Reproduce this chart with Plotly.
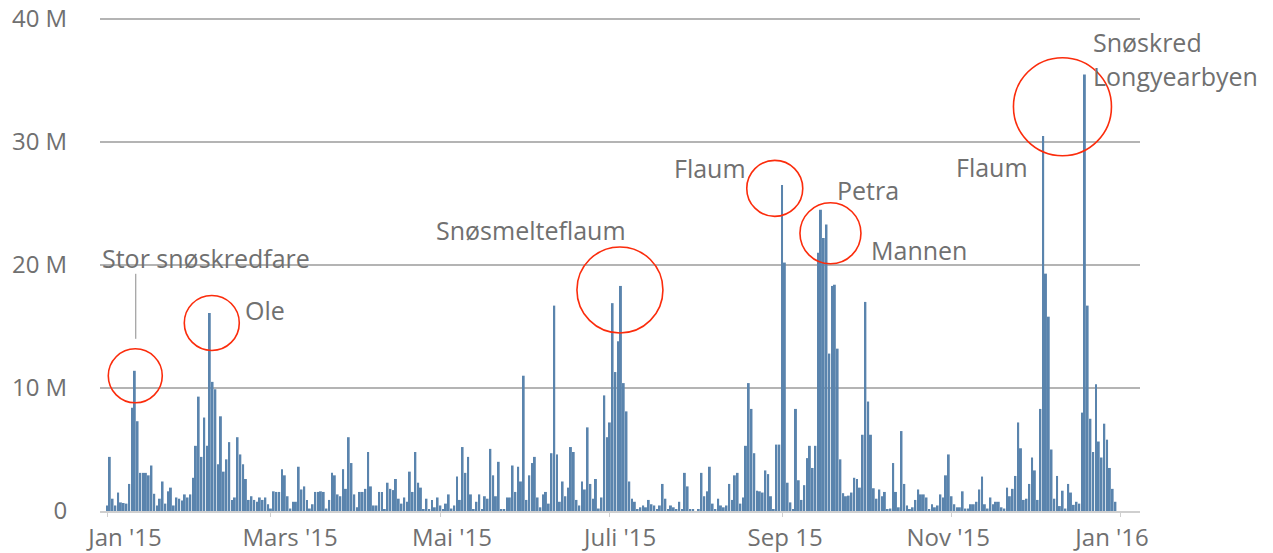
import pandas as pd
import plotly.graph_objects as go

start_date = "2015-01-01"

# Daily values (millions), stretch by stretch
days_000_042 = [0.45, 4.4, 1.0, 0.45, 1.5, 0.7, 0.65, 0.6, 2.2, 8.4, 11.4, 7.3, 3.1, 3.1, 3.1, 2.9,
                3.7, 1.4, 0.45, 1.0, 2.4, 0.6, 1.6, 1.9, 0.45, 1.1, 1.0, 0.85, 1.35, 1.1, 1.35, 2.7,
                5.3, 9.3, 4.4, 7.6, 5.3, 16.1, 10.5, 9.9, 3.8, 7.7, 3.2]
days_043_089 = [4.2, 5.6, 0.9, 1.1, 6.0, 4.6, 3.8, 2.6, 0.9, 1.2, 0.9, 0.75, 1.1, 0.9, 1.1, 0.55,
                0.2, 1.6, 1.55, 1.55, 3.4, 2.9, 1.2, 0.2, 0.75, 0.75, 3.6, 1.75, 2.0, 0.9, 0.2, 0.55,
                1.55, 1.55, 1.6, 1.55, 0.2, 0.9, 3.1, 2.9, 1.35, 1.2, 3.4, 1.8, 6.0, 3.9, 1.35]
days_090_135 = [0.3, 1.55, 1.55, 1.8, 4.8, 2.0, 0.45, 0.45, 1.55, 1.55, 0.1, 2.3, 1.8, 1.7, 2.6, 1.0,
                0.6, 1.1, 0.75, 3.2, 1.55, 4.8, 2.3, 1.9, 0.1, 1.0, 0.1, 0.9, 0.3, 1.1, 0.45, 0.1,
                0.6, 1.35, 0.2, 0.45, 2.8, 0.9, 5.2, 3.1, 4.4, 1.35, 0.1, 0.75, 1.35, 0.1]
days_136_182 = [1.2, 1.0, 5.05, 2.9, 1.2, 4.0, 0.1, 0.1, 1.1, 1.1, 3.7, 1.55, 3.6, 2.4, 11.0, 0.9,
                2.9, 3.9, 4.4, 1.1, 0.3, 1.35, 1.55, 0.6, 4.7, 16.7, 4.6, 0.75, 2.4, 1.2, 1.9, 5.2,
                4.8, 0.9, 0.45, 2.4, 1.75, 6.8, 2.2, 1.0, 2.6, 0.2, 1.1, 9.4, 6.0, 7.2, 16.9]
days_183_229 = [11.3, 13.8, 18.3, 10.4, 8.1, 2.4, 1.0, 0.75, 0.1, 0.3, 0.45, 0.3, 0.9, 0.55, 0.45, 0.1,
                0.45, 2.2, 1.0, 0.1, 0.45, 0.3, 0.1, 0.75, 0.1, 3.1, 2.0, 0.1, 0.1, 0.0, 0.1, 3.1,
                1.2, 1.6, 3.6, 0.6, 0.1, 1.0, 0.45, 0.3, 0.45, 2.2, 0.9, 2.9, 3.1, 0.6, 1.1]
days_230_276 = [5.3, 10.4, 8.3, 4.7, 1.65, 1.6, 1.5, 3.3, 3.0, 1.2, 0.15, 5.4, 5.4, 26.5, 20.2, 2.3,
                0.7, 0.15, 8.3, 2.5, 0.9, 2.1, 4.3, 5.3, 3.5, 5.3, 21.0, 24.5, 22.2, 23.3, 12.8, 18.3,
                18.4, 13.2, 4.2, 1.45, 1.2, 1.25, 1.5, 2.7, 2.6, 1.9, 6.2, 17.0, 8.9, 6.2, 1.85]
days_277_323 = [1.0, 1.75, 1.2, 1.55, 0.1, 0.2, 3.9, 1.55, 0.3, 6.5, 2.2, 0.45, 0.1, 0.3, 0.9, 1.75,
                1.35, 1.35, 1.1, 0.1, 0.55, 0.3, 0.45, 1.35, 1.1, 2.9, 4.6, 1.2, 0.55, 0.3, 0.3, 1.6,
                0.2, 0.2, 0.55, 0.55, 0.75, 1.75, 2.8, 0.55, 0.2, 1.1, 0.55, 0.75, 0.75, 0.3, 0.2]
days_324_364 = [1.9, 1.2, 1.8, 2.85, 7.2, 5.1, 0.9, 1.0, 2.2, 4.35, 3.3, 0.9, 8.3, 30.5, 19.3, 15.8,
                5.0, 1.0, 2.85, 0.4, 1.65, 0.2, 2.2, 1.5, 0.5, 0.75, 0.6, 8.0, 35.5, 16.7, 7.5, 4.8,
                10.3, 5.65, 4.35, 7.1, 5.8, 3.5, 1.8, 0.75, 0.0]

values_m = (days_000_042 + days_043_089 + days_090_135 + days_136_182 +
            days_183_229 + days_230_276 + days_277_323 + days_324_364)
dates = pd.date_range(start_date, periods=len(values_m), freq="D")

y_tick_vals = [0, 10, 20, 30, 40]
y_tick_text = ["0", "10 M", "20 M", "30 M", "40 M"]
x_tick_text = ["Jan '15", "Mars '15", "Mai '15", "Juli '15", "Sep 15", "Nov '15", "Jan '16"]
x_tick_vals = ["2015-01-07 12:00", "2015-03-07 21:36", "2015-05-05 04:48", "2015-07-04 16:48",
               "2015-09-02 02:24", "2015-10-30 19:12", "2015-12-28 19:12"]

# event labels: (text, day index of the peak it refers to, x shift px, y shift px, anchor)
event_labels = [
    ("Stor snøskredfare", 10, -35, 113, "left"),
    ("Ole", 37, 33, 3, "left"),
    ("Snøsmelteflaum", 185, -90, 56, "center"),
    ("Flaum", 243, -34, 17, "right"),
    ("Petra", 257, 14, 20, "left"),
    ("Mannen", 257, 48, -40, "left"),
    ("Flaum", 337, -13, -31, "right"),
    ("Snøskred", 352, 6, 32, "left"),
    ("Longyearbyen", 352, 6, -2, "left"),
]
# circles: (day index of peak, dx px, dy px (up), radius px)
event_circles = [
    (10, 0.5, -5, 27),
    (37, 2, -10, 27.5),
    (185, -1, -4, 43),
    (243, -7.3, -3.3, 28),
    (257, 9.5, -23.6, 30.5),
    (352, -22.4, -32.3, 49),
]

text_color = "#707070"
font_family = "Open Sans, Noto Sans, sans-serif"

fig = go.Figure(go.Bar(
    x=dates, y=values_m,
    marker=dict(color="#5a84ad", line=dict(width=0)),
    hoverinfo="x+y",
))

shapes = []
for idx, dx, dy, r in event_circles:
    shapes.append(dict(
        type="circle", xref="x", yref="y",
        xsizemode="pixel", ysizemode="pixel",
        xanchor=str(dates[idx]), yanchor=values_m[idx],
        x0=dx - r, x1=dx + r, y0=dy - r, y1=dy + r,
        line=dict(color="#fb2c0c", width=1.6),
        layer="above",
    ))
# leader line from "Stor snøskredfare" towards its circle
shapes.append(dict(
    type="line", xref="x", yref="y",
    xsizemode="pixel", ysizemode="pixel",
    xanchor=str(dates[10]), yanchor=values_m[10],
    x0=1, x1=1, y0=32, y1=97,
    line=dict(color="#8a8a8a", width=1),
))

annotations = []
for text, idx, xs, ys, anchor in event_labels:
    annotations.append(dict(
        text=text, x=dates[idx], y=values_m[idx], xref="x", yref="y",
        xshift=xs, yshift=ys, xanchor=anchor, yanchor="middle",
        showarrow=False, font=dict(family=font_family, size=25, color=text_color),
    ))

fig.update_layout(
    width=1265, height=545,
    margin=dict(l=92, r=133, t=7, b=42),
    paper_bgcolor="white", plot_bgcolor="white",
    bargap=0.3, showlegend=False,
    shapes=shapes, annotations=annotations,
    font=dict(family=font_family, size=25, color=text_color),
)
fig.update_xaxes(
    type="date", automargin=False,
    range=["2014-12-29 11:30", "2016-01-07 20:24"],
    tickmode="array", tickvals=x_tick_vals, ticktext=x_tick_text,
    ticks="outside", ticklen=4, tickcolor="rgba(0,0,0,0)",
    showgrid=False, zeroline=False,
    showline=True, linecolor="#cfcfcf", linewidth=2,
    tickfont=dict(size=24, color=text_color),
    minor=dict(tick0="2015-01-01", dtick="M2", ticks="outside", ticklen=4,
               tickcolor="#cfcfcf", tickwidth=1, showgrid=False),
)
fig.update_yaxes(
    automargin=False, ticklabeloverflow="allow",
    range=[0, 40.33], tickmode="array", tickvals=y_tick_vals, ticktext=y_tick_text,
    showgrid=True, gridcolor="#b4b4b4", gridwidth=2,
    zeroline=False, showline=False,
    ticks="outside", ticklen=27, tickcolor="rgba(0,0,0,0)",
    tickfont=dict(size=24, color=text_color),
)

fig.write_html("out.html")
